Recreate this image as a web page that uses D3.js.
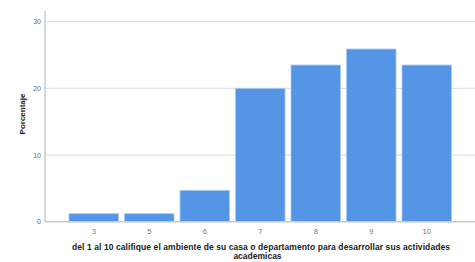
<!DOCTYPE html>
<html>
<head>
<meta charset="utf-8">
<script src="https://cdn.jsdelivr.net/npm/d3@7"></script>
<style>
  body { margin: 0; background: #fff; }
  svg { font-family: "Liberation Sans", Arial, sans-serif; }
</style>
</head>
<body>
<div id="chart"></div>
<script>
// data
const categories = ["3", "5", "6", "7", "8", "9", "10"];
const percents = [1.2, 1.2, 4.7, 20.0, 23.5, 25.9, 23.5];
const yTicks = [0, 10, 20, 30];
const xTitle = ["del 1 al 10 califique el ambiente de su casa o departamento para desarrollar sus actividades", "academicas"];

const svgWidth = 475, svgHeight = 262;

const svg = d3.select("#chart")
  .append("svg")
  .attr("width", svgWidth)
  .attr("height", svgHeight);

const xScale = d3.scaleBand()
  .domain(categories)
  .range([66, 454.5])
  .paddingInner(0.108)
  .paddingOuter(0.054);

const yScale = d3.scaleLinear()
  .domain([0, 30])
  .range([221.7, 21.7]);

// gridlines
svg.append("g")
  .selectAll("line")
  .data(yTicks.filter(d => d > 0))
  .enter()
  .append("line")
  .attr("x1", 45)
  .attr("x2", 475)
  .attr("y1", d => yScale(d))
  .attr("y2", d => yScale(d))
  .attr("stroke", "#e2e2e2")
  .attr("stroke-width", 1.2);

// bars
svg.selectAll(".bar")
  .data(categories)
  .enter()
  .append("rect")
  .attr("class", "bar")
  .attr("x", d => xScale(d))
  .attr("y", (d, i) => yScale(percents[i]))
  .attr("width", xScale.bandwidth())
  .attr("height", (d, i) => yScale(0) - yScale(percents[i]))
  .attr("fill", "#5495e5")
  .attr("stroke", "#a9c9f2")
  .attr("stroke-width", 0.8);

// y axis
const yAxis = svg.append("g")
  .attr("transform", "translate(45,0)")
  .call(d3.axisLeft(yScale).tickValues(yTicks).tickSize(0).tickPadding(4));
yAxis.select(".domain")
  .attr("d", `M0,11V${yScale(0)}`)
  .attr("stroke", "#c8c8c8")
  .attr("stroke-width", 1.5);
yAxis.selectAll("text")
  .attr("font-size", 7)
  .attr("fill", "#666");

// x axis
const xAxis = svg.append("g")
  .attr("transform", `translate(0,${yScale(0)})`)
  .call(d3.axisBottom(xScale).tickSize(0).tickPadding(7));
xAxis.select(".domain")
  .attr("d", "M45,0H475")
  .attr("stroke", "#c8c8c8")
  .attr("stroke-width", 1.5);
xAxis.selectAll("text")
  .attr("font-size", 7.5)
  .attr("fill", "#777");

// axis titles
svg.append("text")
  .attr("transform", "rotate(-90)")
  .attr("x", -114)
  .attr("y", 25)
  .style("text-anchor", "middle")
  .attr("font-size", 8)
  .attr("font-weight", "bold")
  .attr("fill", "#222")
  .text("Porcentaje");

svg.append("g")
  .selectAll("text")
  .data(xTitle)
  .enter()
  .append("text")
  .attr("x", (d, i) => i === 0 ? 261 : 257.5)
  .attr("y", (d, i) => 250 + i * 9)
  .style("text-anchor", "middle")
  .attr("font-size", 8.5)
  .attr("font-weight", "bold")
  .attr("fill", "#222")
  .attr("textLength", (d, i) => i === 0 ? 378 : null)
  .text(d => d);
</script>
</body>
</html>
